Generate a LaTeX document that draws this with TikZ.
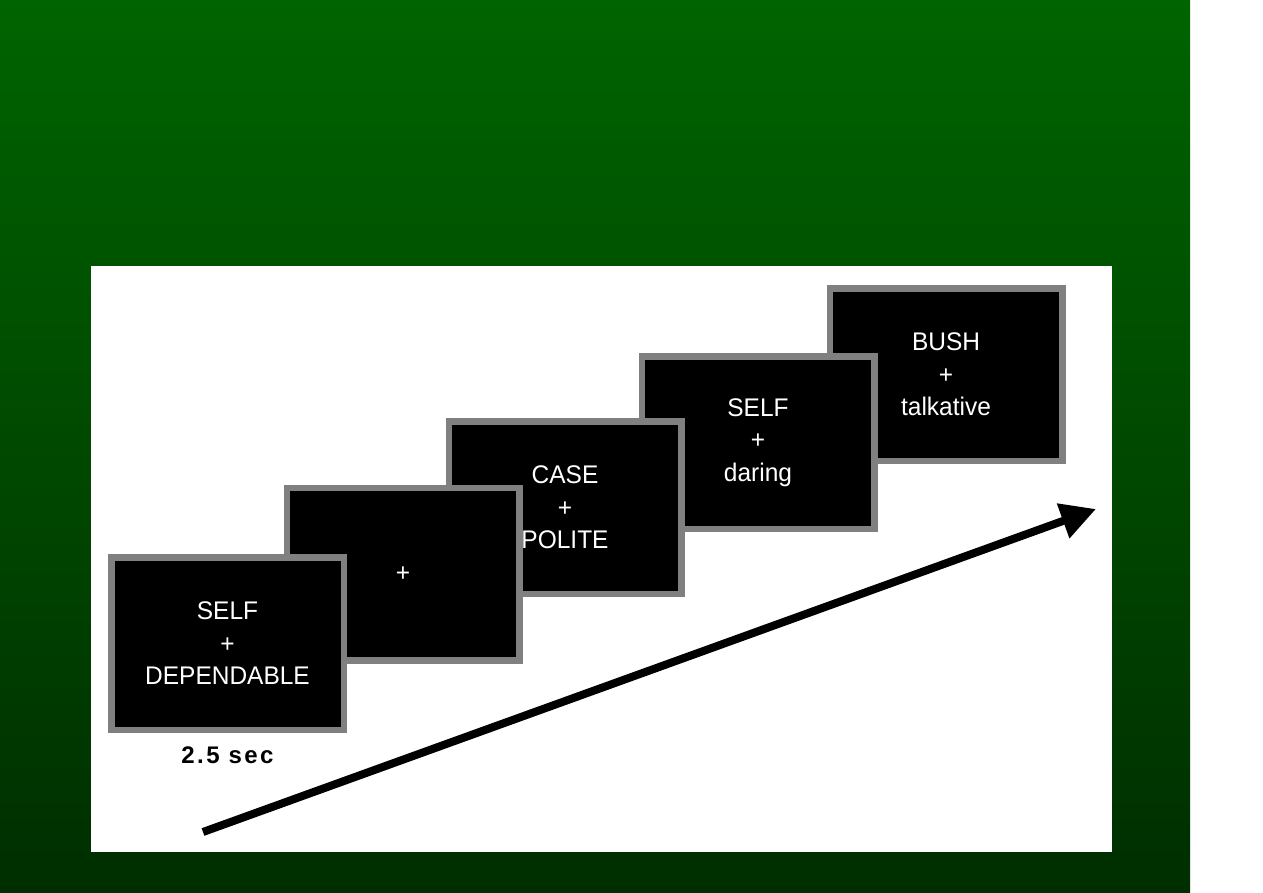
\documentclass[tikz,border=0pt]{standalone}
\usepackage{fontspec}
\usepackage{tikz}
\usetikzlibrary{arrows.meta, positioning}

\newfontfamily\slidefont[FakeStretch=0.96]{Liberation Sans}
\newfontfamily\stampfont[LetterSpace=10]{Liberation Sans}

\definecolor{greentop}{RGB}{0,100,0}
\definecolor{greenmid}{RGB}{0,80,0}
\definecolor{greenbot}{RGB}{0,46,0}
\definecolor{slidegray}{RGB}{128,128,128}

\begin{document}
\begin{tikzpicture}[
    x=1pt, y=-1pt,
    slide/.style={draw=slidegray, line width=6.5pt, fill=black, text=white, align=center,
        minimum width=232.5pt, minimum height=172.5pt, inner sep=0pt,
        font=\slidefont\fontsize{25.5}{32.5}\selectfont},
    stamp/.style={inner sep=0pt, font=\stampfont\bfseries\fontsize{24}{28}\selectfont},
    timeline/.style={-{Triangle[length=35pt, width=35pt]}, line width=8pt}
]
    \useasboundingbox (0,0) rectangle (1263,893);
    % slide background and white panel
    \fill[top color=greentop, middle color=greenmid, bottom color=greenbot] (0,0) rectangle (1190,893);
    \fill[white] (91,266) rectangle (1112,852);

    % trials, back to front
    \node[slide] (s5) at (946,374.5) {BUSH\\+\\talkative};
    \node[slide] (s4) at (758,442.5) {SELF\\+\\daring};
    \node[slide] (s3) at (565,507.5) {CASE\\+\\POLITE};
    \node[slide] (s2) at (403,574) {+};
    \node[slide] (s1) at (227.5,643.5) {SELF\\+\\DEPENDABLE};

    \node[stamp, below=14pt of s1] (dur) {2.5 sec};

    % time axis
    \coordinate (start) at (203,832);
    \coordinate (finish) at (1096,509);
    \draw[timeline] (start) -- (finish);
\end{tikzpicture}
\end{document}
